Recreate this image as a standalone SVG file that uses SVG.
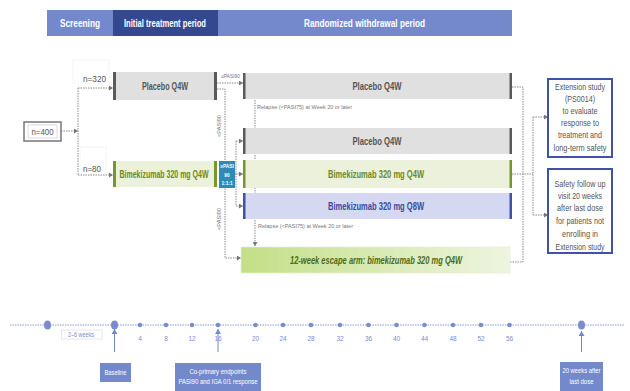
<svg xmlns="http://www.w3.org/2000/svg" width="630" height="391" viewBox="0 0 630 391">
<style>
text{font-family:"Liberation Sans",Arial,sans-serif}
.hdr{fill:#fff;font-weight:bold;text-anchor:middle}
.dot{fill:none;stroke:#8a8a8a;stroke-width:1;stroke-dasharray:1.5 1}
.box{font-weight:bold;text-anchor:middle;font-size:10px}
.gray{fill:#e0e0e0}
.gbar{fill:#5a5a5a}
.grn{fill:#ebf1da}
.gnbar{fill:#77962c}
.small{font-size:5.5px;fill:#777}
.side{fill:#fff;stroke:#3f51a8;stroke-width:2}
.sidet{font-size:9px;fill:#555;text-anchor:middle}
.tl{fill:#7b8ccc}
.wk{font-size:6.5px;fill:#7b8ccc;text-anchor:middle}
.lbl{fill:#7389cc}
.lblt{fill:#fff;font-size:7px;text-anchor:middle}
.bw{fill:#fff;font-size:4.8px;text-anchor:middle;font-weight:bold}
</style>
<defs>
<marker id="ah" markerWidth="5" markerHeight="5" refX="4" refY="2.5" orient="auto" markerUnits="userSpaceOnUse">
<path d="M0,0 L4,2.5 L0,5 z" fill="#777"/>
</marker>
<marker id="ahb" markerWidth="6" markerHeight="6" refX="5" refY="3" orient="auto" markerUnits="userSpaceOnUse">
<path d="M0,0 L5,3 L0,6 z" fill="#7389cc"/>
</marker>
<linearGradient id="esc" x1="0" y1="0" x2="1" y2="0">
<stop offset="0" stop-color="#c3df86"/>
<stop offset="1" stop-color="#eef5e0"/>
</linearGradient>
</defs>
<rect width="630" height="391" fill="#fff"/>

<g id="header">
<rect x="47" y="10" width="465" height="26" fill="#7389cc"/>
<rect x="113" y="10" width="105" height="26" fill="#34488f"/>
<text class="hdr" x="80" y="27" font-size="11" textLength="40" lengthAdjust="spacingAndGlyphs">Screening</text>
<text class="hdr" x="165" y="26.5" font-size="10" font-weight="normal" textLength="82" lengthAdjust="spacingAndGlyphs">Initial treatment period</text>
<text class="hdr" x="364.5" y="27" font-size="11" font-weight="normal" textLength="121" lengthAdjust="spacingAndGlyphs">Randomized withdrawal period</text>
</g>

<g id="connectors">
<path class="dot" d="M61 131 H78" marker-end="url(#ah)"/>
<path class="dot" d="M78 88 V175"/>
<path class="dot" d="M78 88 H113" marker-end="url(#ah)"/>
<path class="dot" d="M78 175 H113" marker-end="url(#ah)"/>
<path class="dot" d="M217 83 H243" marker-end="url(#ah)"/>
<path class="dot" d="M217 89 H225 V258 H241" marker-end="url(#ah)"/>
<path class="dot" d="M235 174 H243" marker-end="url(#ah)"/>
<path class="dot" d="M236 141 V206"/>
<path class="dot" d="M236 141 H243" marker-end="url(#ah)"/>
<path class="dot" d="M236 206 H243" marker-end="url(#ah)"/>
<path class="dot" d="M255 100 V246" marker-end="url(#ah)"/>
<path class="dot" d="M512 87 H523 V262 H510"/>
<path class="dot" d="M512 174 H533"/>
<path class="dot" d="M533 117 V215"/>
<path class="dot" d="M533 117 H548" marker-end="url(#ah)"/>
<path class="dot" d="M533 215 H548" marker-end="url(#ah)"/>
<text class="small" x="221" y="78" font-size="5" textLength="19" lengthAdjust="spacingAndGlyphs">≥PASI90</text>
<text class="small" transform="translate(220.5,137) rotate(-90)" font-size="6" textLength="22" lengthAdjust="spacingAndGlyphs">&lt;PASI90</text>
<text class="small" transform="translate(220.5,230) rotate(-90)" font-size="6" textLength="22" lengthAdjust="spacingAndGlyphs">&lt;PASI90</text>
<text class="small" x="257" y="109" textLength="95" lengthAdjust="spacingAndGlyphs">Relapse  (&lt;PASI75) at Week 20 or later</text>
<text class="small" x="258" y="228" textLength="95" lengthAdjust="spacingAndGlyphs">Relapse  (&lt;PASI75) at Week 20 or later</text>
</g>

<g id="n400">
<rect x="24" y="122" width="37" height="19" fill="#fff" stroke="#777" stroke-width="1.5"/>
<rect x="28" y="125" width="29" height="13" fill="none" stroke="#bbb" stroke-width="0.5"/>
<text x="42.5" y="135" font-size="9" fill="#555" text-anchor="middle" textLength="22" lengthAdjust="spacingAndGlyphs">n=400</text>
</g>

<g id="n320">
<rect x="73" y="60" width="36" height="23" fill="#fff" stroke="#f0f0f0" stroke-width="0.7"/>
<text x="83" y="82" font-size="9" fill="#555" textLength="23" lengthAdjust="spacingAndGlyphs">n=320</text>
</g>
<g id="n80">
<rect x="80" y="147" width="26" height="23" fill="#fff" stroke="#f0f0f0" stroke-width="0.7"/>
<text x="83" y="172" font-size="9" fill="#555" textLength="18" lengthAdjust="spacingAndGlyphs">n=80</text>
</g>

<g id="placebo-initial">
<rect class="gray" x="113" y="72" width="104" height="28"/>
<rect class="gbar" x="113" y="72" width="3" height="28"/>
<rect class="gbar" x="214" y="72" width="3" height="28"/>
<text class="box" x="165" y="90" fill="#555" textLength="46" lengthAdjust="spacingAndGlyphs">Placebo Q4W</text>
</g>

<g id="bkz-initial">
<rect class="grn" x="113" y="161" width="104" height="26"/>
<rect class="gnbar" x="113" y="161" width="3" height="26"/>
<rect class="gnbar" x="214" y="161" width="3" height="26"/>
<text class="box" transform="translate(164 178) scale(0.7 1)" x="0" y="0" fill="#6b8a22">Bimekizumab  320 mg Q4W</text>
</g>

<g id="randomize">
<rect x="219" y="161" width="16" height="27" fill="#2e8bb8"/>
<text class="bw"><tspan x="227" y="168">≥PASI</tspan><tspan x="227" y="176.5">90</tspan><tspan x="227" y="185">1:1:1</tspan></text>
</g>

<g id="placebo-rw1">
<rect class="gray" x="243" y="73" width="269" height="26"/>
<rect class="gbar" x="243" y="73" width="2.5" height="26"/>
<rect class="gbar" x="509.5" y="73" width="2.5" height="26"/>
<text class="box" x="377" y="90" fill="#555" textLength="49" lengthAdjust="spacingAndGlyphs">Placebo Q4W</text>
</g>

<g id="placebo-rw2">
<rect class="gray" x="243" y="128" width="269" height="26"/>
<rect class="gbar" x="243" y="128" width="2.5" height="26"/>
<rect class="gbar" x="509.5" y="128" width="2.5" height="26"/>
<text class="box" x="377" y="145" fill="#555" textLength="49" lengthAdjust="spacingAndGlyphs">Placebo Q4W</text>
</g>

<g id="bkz-q4w">
<rect class="grn" x="243" y="160" width="269" height="28"/>
<rect class="gnbar" x="243" y="160" width="2.5" height="28"/>
<rect class="gnbar" x="509.5" y="160" width="2.5" height="28"/>
<text class="box" x="376" y="178" fill="#6b8a22" textLength="96" lengthAdjust="spacingAndGlyphs">Bimekizumab 320 mg Q4W</text>
</g>

<g id="bkz-q8w">
<rect x="243" y="193" width="269" height="26" fill="#d4d9f1"/>
<rect x="243" y="193" width="2.5" height="26" fill="#3f51a8"/>
<rect x="509.5" y="193" width="2.5" height="26" fill="#3f51a8"/>
<text class="box" x="376" y="210" fill="#3a4a9a" textLength="96" lengthAdjust="spacingAndGlyphs">Bimekizumab 320 mg Q8W</text>
</g>

<g id="escape">
<rect x="241" y="247" width="269" height="26" fill="url(#esc)" stroke="#e6eed6" stroke-width="0.7"/>
<text class="box" x="376" y="264" fill="#4e6b1a" font-style="italic" textLength="172" lengthAdjust="spacingAndGlyphs">12-week escape arm: bimekizumab 320 mg Q4W</text>
</g>

<g id="extension">
<rect class="side" x="548" y="79" width="64" height="78"/>
<text class="sidet" x="580" y="90" textLength="50" lengthAdjust="spacingAndGlyphs">Extension study</text>
<text class="sidet" x="580" y="102" textLength="30" lengthAdjust="spacingAndGlyphs">(PS0014)</text>
<text class="sidet" x="580" y="114" textLength="35" lengthAdjust="spacingAndGlyphs">to evaluate</text>
<text class="sidet" x="580" y="126" textLength="38" lengthAdjust="spacingAndGlyphs">response to</text>
<text class="sidet" x="580" y="138" textLength="44" lengthAdjust="spacingAndGlyphs">treatment and</text>
<text class="sidet" x="580" y="151" textLength="53" lengthAdjust="spacingAndGlyphs">long-term safety</text>
</g>

<g id="safety">
<rect class="side" x="548" y="169" width="64" height="84"/>
<text class="sidet" x="580" y="187" textLength="51" lengthAdjust="spacingAndGlyphs">Safety follow up</text>
<text class="sidet" x="580" y="199" textLength="44" lengthAdjust="spacingAndGlyphs">visit 20 weeks</text>
<text class="sidet" x="580" y="211" textLength="46" lengthAdjust="spacingAndGlyphs">after last dose</text>
<text class="sidet" x="580" y="224" textLength="48" lengthAdjust="spacingAndGlyphs">for patients not</text>
<text class="sidet" x="580" y="237" textLength="36" lengthAdjust="spacingAndGlyphs">enrolling  in</text>
<text class="sidet" x="580" y="250" textLength="49" lengthAdjust="spacingAndGlyphs">Extension study</text>
</g>

<g id="timeline">
<path d="M10 325 H625" stroke="#8a9ad6" stroke-width="1" stroke-dasharray="1.5 1"/>
<ellipse class="tl" cx="47.5" cy="325" rx="3.5" ry="4.5"/>
<ellipse class="tl" cx="114.5" cy="325" rx="3.5" ry="4.5"/>
<ellipse class="tl" cx="581.5" cy="325" rx="3.5" ry="4.5"/>
<circle class="tl" cx="140" cy="325" r="2.3"/>
<circle class="tl" cx="166" cy="325" r="2.3"/>
<circle class="tl" cx="192" cy="325" r="2.3"/>
<circle class="tl" cx="218" cy="325" r="2.3"/>
<circle class="tl" cx="255.5" cy="325" r="2.3"/>
<circle class="tl" cx="283" cy="325" r="2.3"/>
<circle class="tl" cx="311" cy="325" r="2.3"/>
<circle class="tl" cx="340" cy="325" r="2.3"/>
<circle class="tl" cx="368.5" cy="325" r="2.3"/>
<circle class="tl" cx="396.5" cy="325" r="2.3"/>
<circle class="tl" cx="424.5" cy="325" r="2.3"/>
<circle class="tl" cx="453" cy="325" r="2.3"/>
<circle class="tl" cx="481" cy="325" r="2.3"/>
<circle class="tl" cx="509.5" cy="325" r="2.3"/>
<text class="wk" x="140" y="341">4</text>
<text class="wk" x="166" y="341">8</text>
<text class="wk" x="192" y="341">12</text>
<text class="wk" x="218" y="341">16</text>
<text class="wk" x="255.5" y="341">20</text>
<text class="wk" x="283" y="341">24</text>
<text class="wk" x="311" y="341">28</text>
<text class="wk" x="340" y="341">32</text>
<text class="wk" x="368.5" y="341">36</text>
<text class="wk" x="396.5" y="341">40</text>
<text class="wk" x="424.5" y="341">44</text>
<text class="wk" x="453" y="341">48</text>
<text class="wk" x="481" y="341">52</text>
<text class="wk" x="509.5" y="341">56</text>
<rect x="61.5" y="330" width="40.5" height="9" fill="#fff" stroke="#ccc" stroke-width="0.5"/>
<text class="wk" x="81" y="337" textLength="26" lengthAdjust="spacingAndGlyphs">2–6 weeks</text>
</g>

<g id="baseline">
<path d="M114.5 352 V329" stroke="#7389cc" stroke-width="1" marker-end="url(#ahb)"/>
<rect class="lbl" x="100" y="363" width="31" height="19"/>
<text class="lblt" x="115.5" y="375" textLength="22" lengthAdjust="spacingAndGlyphs">Baseline</text>
</g>

<g id="coprimary">
<path d="M218 352 V329" stroke="#7389cc" stroke-width="1" marker-end="url(#ahb)"/>
<rect class="lbl" x="175" y="363" width="86" height="28"/>
<text class="lblt" x="218" y="374" textLength="57" lengthAdjust="spacingAndGlyphs">Co-primary endpoints</text>
<text class="lblt" x="218" y="384" textLength="79" lengthAdjust="spacingAndGlyphs">PASI90 and IGA 0/1 response</text>
</g>

<g id="after">
<path d="M581.5 352 V331" stroke="#7389cc" stroke-width="1" marker-end="url(#ahb)"/>
<rect class="lbl" x="560" y="362" width="43" height="29"/>
<text class="lblt" x="581.5" y="373" textLength="38" lengthAdjust="spacingAndGlyphs">20 weeks  after</text>
<text class="lblt" x="581.5" y="384" textLength="24" lengthAdjust="spacingAndGlyphs">last dose</text>
</g>
</svg>
